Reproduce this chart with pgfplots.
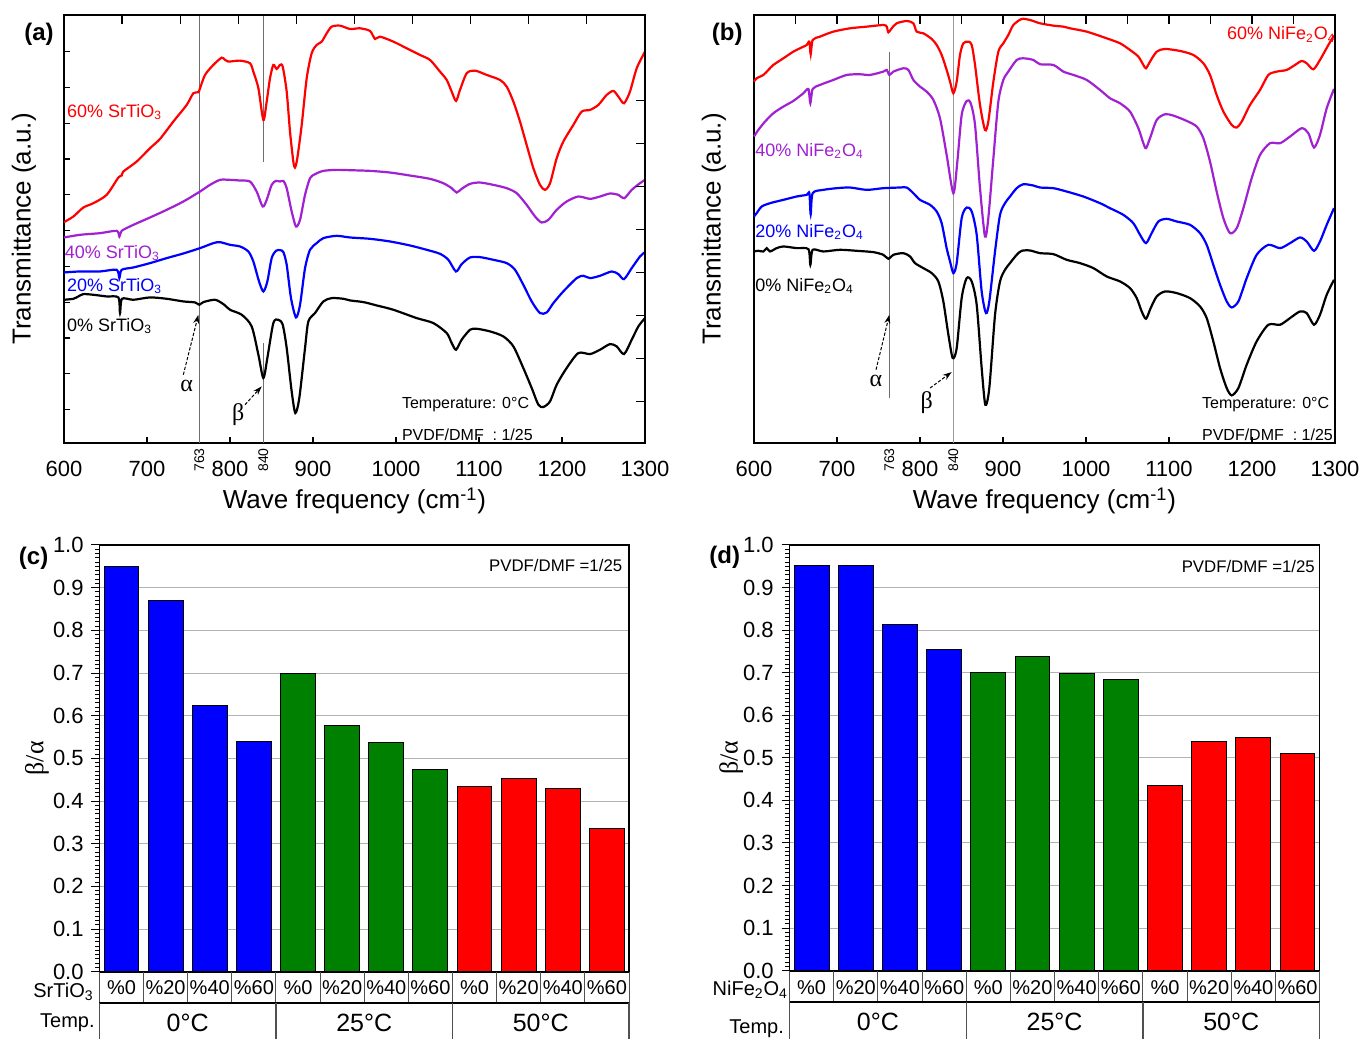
\documentclass[border=0pt]{standalone}
\usepackage{fontspec}
\setmainfont{Liberation Sans}
\newfontfamily\greekfont{Liberation Serif}
\usepackage{pgfplots}
\pgfplotsset{compat=1.18}
\usetikzlibrary{arrows.meta}
\definecolor{cpurple}{RGB}{160,32,210}
\definecolor{cgreen}{RGB}{0,128,0}
\definecolor{cblue}{RGB}{0,0,255}
\definecolor{cred}{RGB}{255,0,0}
\definecolor{vline}{RGB}{110,110,110}
\definecolor{tline}{RGB}{80,80,80}
\newcommand{\fs}[1]{\fontsize{#1}{#1}\selectfont}
\pgfplotsset{
  spec/.style={
    scale only axis, width=290.5pt, height=214pt,
    xmin=600, xmax=1300, ymin=-1285, ymax=0,
    axis line style={line width=0.8pt},
    xtick={600,700,...,1300},
    xtick pos=left, ytick pos=left,
    tick align=inside, major tick length=3pt,
    tick style={line width=0.6pt, black},
    yticklabels={},
    /pgf/number format/assume math mode=true,
    /pgf/number format/1000 sep={},
    xticklabel style={font=\fs{11}, yshift=-5.5pt},
    xlabel={Wave frequency (cm\textsuperscript{-1})},
    ylabel={Transmittance (a.u.)},
    xlabel style={font=\fs{13}, at={(axis description cs:0.5,0)}, anchor=center, yshift=-29pt},
    ylabel style={font=\fs{13}, at={(axis description cs:-0.069,0.5)}, anchor=center},
    clip=false,
  },
  specover/.style={
    scale only axis, width=290.5pt, height=214pt,
    xmin=600, xmax=1300, ymin=-1285, ymax=0,
    axis x line*=top, axis y line*=right,
    axis line style={line width=0.8pt, -},
    tick align=inside, tick style={line width=0.6pt, black},
    xticklabels={}, yticklabels={},
  },
  curve/.style={line width=1.1pt, smooth, tension=0.45, mark=none},
  barax/.style={
    scale only axis, xmin=-0.5, xmax=11.5, ymin=0, ymax=1,
    xtick=\empty,
    ytick={0,0.1,0.2,0.3,0.4,0.5,0.6,0.7,0.8,0.9,1},
    minor y tick num=9,
    ymajorgrids, major grid style={draw=gray!60, line width=0.5pt},
    ytick pos=left, tick align=outside, major tick length=4pt, minor tick length=2.2pt,
    tick style={black, line width=0.5pt},
    axis line style={line width=0.8pt},
    /pgf/number format/assume math mode=true,
    yticklabel style={font=\fs{11}, inner sep=1pt, xshift=-2.7pt, /pgf/number format/.cd, fixed, fixed zerofill, precision=1},
    ylabel={{\greekfont β/α}},
    ylabel style={font=\fs{13}, anchor=center},
    clip=false,
  },
  onebar/.style={ybar, bar width=0.79, bar shift=0pt, draw=black, line width=0.5pt},
}
\tikzset{
  lbl/.style={anchor=base west, font=\fs{9}, inner sep=0pt},
  note/.style={anchor=base west, font=\fs{8}, inner sep=0pt},
  arr/.style={dash pattern=on 1.6pt off 0.9pt, line width=0.5pt, -{Stealth[length=4.5pt,width=3pt]}},
  gr/.style={font=\fs{12}\greekfont, inner sep=0pt},
  rot/.style={rotate=90, anchor=east, font=\fs{7}, inner sep=0pt},
  panel/.style={font=\fs{12}\bfseries, inner sep=0pt},
}
\begin{document}
\begin{tikzpicture}
\path[use as bounding box] (0pt,0pt) rectangle (682.5pt,519.5pt);
% ================= panel (a)
\begin{axis}[spec, at={(32pt,298pt)}, anchor=south west,
  ytick={-1185,-1077.5,-970,-862.5,-755,-647.5,-540,-432.5,-325,-217.5,-110}]
\draw[vline, line width=0.6pt] (axis cs:763,0) -- (axis cs:763,-1285);
\draw[vline, line width=0.6pt] (axis cs:840,0) -- (axis cs:840,-440);
\draw[vline, line width=0.6pt] (axis cs:840,-985) -- (axis cs:840,-1285);
\addplot[curve, cred] coordinates {(600.0,-622) (611.3,-605) (623.3,-578) (635.4,-565) (651.4,-540) (665.5,-488) (669.5,-482) (671.5,-470) (687.6,-440) (703.6,-400) (715.7,-372) (731.7,-320) (747.8,-270) (755.8,-235) (761.9,-232) (763.9,-220) (769.9,-180) (779.9,-150) (790.0,-128) (794.0,-135) (798.0,-140) (812.1,-137) (824.1,-145) (828.1,-170) (834.2,-220) (840.2,-315) (844.2,-260) (848.2,-190) (852.2,-150) (856.2,-162) (860.3,-150) (863.5,-155) (868.3,-230) (872.3,-350) (876.3,-440) (878.3,-458) (881.1,-430) (886.4,-330) (892.4,-190) (898.4,-115) (904.4,-90) (910.5,-80) (916.5,-55) (922.5,-35) (932.5,-32) (944.6,-42) (956.6,-40) (968.7,-48) (974.7,-72) (980.7,-65) (996.8,-80) (1012.9,-100) (1028.9,-120) (1041.0,-135) (1053.0,-170) (1061.1,-195) (1067.1,-230) (1072.3,-258) (1077.1,-225) (1085.2,-175) (1095.2,-167) (1109.3,-180) (1125.3,-195) (1133.4,-215) (1141.4,-260) (1149.4,-320) (1157.4,-390) (1165.5,-460) (1173.5,-510) (1179.5,-525) (1185.6,-505) (1193.6,-430) (1201.6,-380) (1213.7,-330) (1223.7,-290) (1233.8,-285) (1243.8,-270) (1253.8,-240) (1261.9,-228) (1267.9,-245) (1274.7,-265) (1281.9,-230) (1290.0,-160) (1300.0,-110)};
\addplot[curve, cpurple] coordinates {(600.0,-668) (619.3,-660) (643.4,-655) (663.5,-648) (666.7,-665) (669.5,-648) (683.6,-630) (703.6,-608) (723.7,-585) (743.8,-560) (763.9,-530) (775.9,-510) (788.0,-495) (800.0,-495) (812.1,-497) (824.1,-500) (832.1,-530) (839.4,-575) (844.2,-555) (850.2,-510) (855.4,-498) (860.3,-500) (864.3,-498) (868.3,-520) (874.3,-590) (879.5,-635) (884.4,-615) (890.4,-540) (896.4,-490) (902.4,-478) (912.5,-468) (928.5,-465) (944.6,-466) (968.7,-468) (992.8,-473) (1016.9,-482) (1041.0,-492) (1057.0,-505) (1067.1,-520) (1073.1,-533) (1079.1,-522) (1089.2,-507) (1101.2,-503) (1117.3,-510) (1133.4,-520) (1145.4,-535) (1157.4,-570) (1167.5,-605) (1175.5,-623) (1183.6,-615) (1193.6,-585) (1205.6,-560) (1219.7,-545) (1233.8,-552) (1245.8,-545) (1257.8,-536) (1267.9,-540) (1275.1,-550) (1284.0,-525) (1294.0,-505) (1300.0,-495)};
\addplot[curve, cblue] coordinates {(600.0,-773) (619.3,-770) (643.4,-770) (663.5,-765) (666.7,-790) (669.5,-765) (683.6,-758) (703.6,-745) (723.7,-730) (743.8,-716) (763.9,-700) (779.9,-685) (788.0,-682) (800.0,-690) (812.1,-695) (822.1,-710) (828.1,-740) (835.0,-800) (840.2,-830) (845.0,-800) (850.2,-730) (855.4,-708) (860.3,-706) (864.3,-712) (868.3,-750) (873.5,-850) (879.5,-908) (884.4,-870) (890.4,-760) (896.4,-705) (904.4,-685) (912.5,-670) (928.5,-663) (944.6,-668) (968.7,-672) (992.8,-680) (1016.9,-692) (1037.0,-705) (1053.0,-717) (1063.1,-735) (1072.3,-770) (1079.1,-748) (1089.2,-728) (1101.2,-727) (1117.3,-735) (1133.4,-745) (1143.4,-765) (1153.4,-810) (1163.5,-860) (1173.5,-895) (1181.6,-893) (1189.6,-865) (1201.6,-830) (1217.7,-790) (1225.7,-783) (1233.8,-790) (1245.8,-783) (1259.9,-770) (1267.9,-778) (1274.7,-793) (1284.0,-760) (1294.0,-725) (1300.0,-712)};
\addplot[curve, black] coordinates {(600.0,-855) (611.3,-852) (617.3,-845) (623.3,-838) (635.4,-840) (651.4,-845) (665.5,-848) (667.5,-895) (669.9,-852) (683.6,-855) (703.6,-848) (723.7,-852) (743.8,-860) (757.8,-863) (763.1,-870) (767.9,-862) (781.9,-855) (792.0,-868) (800.0,-885) (814.1,-900) (826.1,-935) (834.2,-1020) (840.2,-1090) (845.0,-1030) (852.2,-925) (858.2,-915) (863.5,-930) (868.3,-1000) (874.3,-1130) (878.7,-1195) (883.5,-1150) (890.4,-1000) (894.4,-920) (902.4,-895) (912.5,-860) (922.5,-850) (936.6,-852) (944.6,-857) (960.7,-862) (976.7,-872) (996.8,-885) (1024.9,-910) (1045.0,-925) (1061.1,-955) (1067.1,-985) (1072.3,-1005) (1079.1,-975) (1089.2,-945) (1097.2,-942) (1113.3,-950) (1129.3,-965) (1141.4,-995) (1153.4,-1060) (1163.5,-1120) (1171.5,-1170) (1177.5,-1177) (1185.6,-1160) (1193.6,-1110) (1205.6,-1060) (1219.7,-1015) (1233.8,-1018) (1245.8,-1005) (1257.8,-988) (1265.9,-995) (1274.7,-1018) (1284.0,-975) (1292.0,-935) (1300.0,-910)};
\node[lbl, text=cred] at (axis cs:603.2,-308) {60\% SrTiO\textsubscript{3}};
\node[lbl, text=cpurple] at (axis cs:600.5,-730) {40\% SrTiO\textsubscript{3}};
\node[lbl, text=cblue] at (axis cs:603.2,-830) {20\% SrTiO\textsubscript{3}};
\node[lbl, text=black] at (axis cs:603.2,-950) {0\% SrTiO\textsubscript{3}};
\node[note] at (axis cs:1006.8,-1180) {Temperature: 0°C};
\node[note] at (axis cs:1006.8,-1278) {PVDF/DMF~~: 1/25};
\draw[arr] (axis cs:743.8,-1080) -- (axis cs:761.9,-900);
\draw[arr] (axis cs:818.1,-1170) -- (axis cs:838.2,-1115);
\node[gr] at (axis cs:747.8,-1115) {α};
\node[gr] at (axis cs:810,-1200) {β};
\node[rot] at ([yshift=-2.5pt]axis cs:763,-1285) {763};
\node[rot] at ([yshift=-2.5pt]axis cs:840,-1285) {840};
\end{axis}
\begin{axis}[specover, at={(32pt,298pt)}, anchor=south west,
  xtick={670,740,...,1230}, ytick={-1160,-1031,-902,-773,-644,-515,-386,-257}]
\end{axis}
% ================= panel (b)
\begin{axis}[spec, at={(377pt,298pt)}, anchor=south west, ytick=\empty]
\draw[vline, line width=0.6pt] (axis cs:763,-110) -- (axis cs:763,-1150);
\draw[vline!70, line width=0.6pt] (axis cs:840,0) -- (axis cs:840,-1285);
\addplot[curve, cred] coordinates {(600.0,-200) (603.2,-190) (611.3,-180) (617.3,-165) (623.3,-150) (635.4,-130) (647.4,-110) (655.4,-100) (663.5,-90) (666.7,-80) (668.3,-118) (670.7,-75) (679.5,-65) (695.6,-50) (715.7,-40) (735.8,-35) (755.8,-30) (759.9,-35) (761.9,-52) (765.9,-40) (771.9,-25) (784.0,-18) (792.0,-25) (796.0,-50) (804.0,-55) (814.1,-72) (820.1,-90) (826.1,-120) (832.1,-165) (836.2,-200) (840.2,-235) (844.2,-200) (848.2,-120) (852.2,-85) (858.2,-80) (862.3,-90) (866.3,-150) (872.3,-270) (878.3,-345) (882.3,-320) (888.4,-200) (894.4,-110) (900.4,-85) (906.4,-60) (912.5,-30) (922.5,-12) (932.5,-15) (944.6,-25) (960.7,-32) (972.7,-35) (980.7,-40) (1000.8,-50) (1024.9,-70) (1041.0,-85) (1053.0,-105) (1063.1,-125) (1069.1,-150) (1072.3,-160) (1077.1,-140) (1085.2,-110) (1095.2,-102) (1113.3,-108) (1129.3,-120) (1141.4,-145) (1149.4,-180) (1157.4,-240) (1165.5,-290) (1175.5,-330) (1181.6,-338) (1187.6,-320) (1197.6,-270) (1209.7,-225) (1219.7,-180) (1229.8,-170) (1241.8,-165) (1251.8,-150) (1259.9,-138) (1265.9,-145) (1273.9,-163) (1281.9,-135) (1292.0,-90) (1298.8,-62)};
\addplot[curve, cpurple] coordinates {(600.0,-365) (605.2,-345) (613.3,-320) (623.3,-295) (635.4,-275) (647.4,-258) (659.5,-235) (665.5,-222) (667.9,-265) (670.7,-222) (679.5,-210) (695.6,-195) (711.7,-180) (727.7,-178) (739.8,-180) (755.8,-170) (759.9,-165) (763.1,-180) (767.9,-170) (779.9,-160) (786.0,-165) (792.0,-195) (800.0,-215) (808.0,-230) (816.1,-255) (824.1,-310) (832.1,-420) (840.2,-535) (845.0,-440) (850.2,-300) (856.2,-258) (861.1,-265) (866.3,-330) (872.3,-520) (878.3,-665) (882.3,-610) (888.4,-430) (894.4,-260) (900.4,-195) (906.4,-170) (916.5,-135) (924.5,-130) (936.6,-135) (944.6,-148) (960.7,-150) (972.7,-170) (984.8,-180) (1000.8,-195) (1016.9,-225) (1028.9,-250) (1041.0,-265) (1053.0,-290) (1063.1,-340) (1069.1,-385) (1072.3,-400) (1077.1,-370) (1085.2,-315) (1095.2,-298) (1105.2,-302) (1121.3,-318) (1133.4,-335) (1141.4,-370) (1149.4,-440) (1157.4,-530) (1165.5,-610) (1173.5,-655) (1181.6,-640) (1189.6,-580) (1199.6,-490) (1209.7,-420) (1221.7,-385) (1233.8,-385) (1245.8,-365) (1259.9,-340) (1267.9,-355) (1274.7,-398) (1281.9,-360) (1290.0,-280) (1298.8,-222)};
\addplot[curve, cblue] coordinates {(600.0,-605) (603.2,-595) (609.3,-575) (619.3,-565) (635.4,-555) (651.4,-545) (663.5,-540) (666.7,-535) (668.3,-598) (670.7,-535) (683.6,-525) (699.6,-520) (715.7,-518) (735.8,-525) (755.8,-520) (775.9,-518) (784.0,-518) (792.0,-535) (800.0,-555) (812.1,-570) (820.1,-590) (826.1,-625) (832.1,-700) (836.2,-740) (840.2,-775) (844.2,-745) (850.2,-610) (856.2,-578) (862.3,-590) (868.3,-660) (874.3,-830) (879.5,-895) (883.5,-860) (890.4,-710) (896.4,-600) (902.4,-565) (908.4,-545) (916.5,-520) (924.5,-508) (936.6,-512) (944.6,-518) (960.7,-520) (976.7,-530) (996.8,-545) (1016.9,-565) (1028.9,-580) (1045.0,-600) (1057.0,-625) (1065.1,-660) (1072.3,-685) (1079.1,-655) (1087.2,-620) (1097.2,-612) (1109.3,-620) (1125.3,-630) (1137.4,-655) (1145.4,-690) (1153.4,-750) (1161.5,-810) (1169.5,-860) (1175.5,-878) (1183.6,-860) (1193.6,-790) (1205.6,-720) (1219.7,-690) (1233.8,-700) (1245.8,-685) (1257.8,-668) (1265.9,-680) (1274.7,-708) (1281.9,-680) (1290.0,-630) (1298.8,-580)};
\addplot[curve, black] coordinates {(600.0,-710) (605.2,-708) (611.3,-710) (615.3,-700) (619.3,-710) (627.3,-700) (635.4,-695) (651.4,-700) (665.5,-703) (667.9,-750) (670.7,-705) (683.6,-710) (703.6,-705) (723.7,-708) (743.8,-712) (755.8,-720) (761.9,-732) (767.9,-720) (779.9,-715) (788.0,-725) (794.0,-745) (804.0,-760) (814.1,-775) (822.1,-800) (828.1,-860) (834.2,-960) (839.4,-1030) (844.2,-1000) (850.2,-850) (856.2,-790) (862.3,-800) (868.3,-870) (874.3,-1060) (878.7,-1170) (883.5,-1120) (890.4,-900) (896.4,-800) (902.4,-765) (908.4,-745) (916.5,-720) (922.5,-708) (932.5,-707) (944.6,-715) (960.7,-718) (976.7,-735) (992.8,-745) (1008.9,-760) (1024.9,-785) (1041.0,-800) (1053.0,-820) (1061.1,-850) (1067.1,-890) (1072.3,-912) (1077.9,-880) (1085.2,-845) (1095.2,-830) (1109.3,-835) (1125.3,-850) (1137.4,-875) (1145.4,-910) (1153.4,-980) (1161.5,-1060) (1169.5,-1120) (1175.5,-1142) (1183.6,-1120) (1193.6,-1050) (1205.6,-980) (1219.7,-930) (1233.8,-930) (1245.8,-910) (1257.8,-890) (1265.9,-895) (1274.7,-930) (1281.9,-900) (1290.0,-840) (1298.8,-795)};
\node[lbl, text=cred] at (axis cs:1169.5,-75) {60\% NiFe\textsubscript{2}O\textsubscript{4}};
\node[lbl, text=cpurple] at (axis cs:601.2,-425) {40\% NiFe\textsubscript{2}O\textsubscript{4}};
\node[lbl, text=cblue] at (axis cs:601.2,-668) {20\% NiFe\textsubscript{2}O\textsubscript{4}};
\node[lbl, text=black] at (axis cs:601.2,-830) {0\% NiFe\textsubscript{2}O\textsubscript{4}};
\node[note] at (axis cs:1139.4,-1180) {Temperature: 0°C};
\node[note] at (axis cs:1139.4,-1278) {PVDF/DMF~~: 1/25};
\draw[arr] (axis cs:747.0,-1065) -- (axis cs:763.1,-900);
\draw[arr] (axis cs:812.1,-1120) -- (axis cs:838.2,-1072);
\node[gr] at (axis cs:747.0,-1100) {α};
\node[gr] at (axis cs:808.0,-1165) {β};
\node[rot] at ([yshift=-2.5pt]axis cs:763,-1285) {763};
\node[rot] at ([yshift=-2.5pt]axis cs:840,-1285) {840};
\end{axis}
\begin{axis}[specover, at={(377pt,298pt)}, anchor=south west,
  xtick={650,700,...,1250}, ytick=\empty]
\end{axis}
% ================= panel (c)
\begin{axis}[barax, at={(49.7pt,33.65pt)}, anchor=south west, width=264.8pt, height=213.35pt,
  ylabel style={at={(axis description cs:-0.118,0.5)}}]
\addplot[onebar, fill=cblue] coordinates {(0,0.949) (1,0.870) (2,0.623) (3,0.540)};
\addplot[onebar, fill=cgreen] coordinates {(4,0.699) (5,0.577) (6,0.538) (7,0.475)};
\addplot[onebar, fill=cred] coordinates {(8,0.435) (9,0.452) (10,0.430) (11,0.336)};
\node[anchor=base east, font=\fs{8.4}, inner sep=0pt] at ([xshift=-3.2pt]axis cs:11.5,0.9375) {PVDF/DMF =1/25};
\end{axis}
% table (c)
\foreach \i in {0,...,12} \draw[tline, line width=0.5pt] ({49.7pt+\i*22.0667pt},33.65pt) -- ({49.7pt+\i*22.0667pt},18.15pt);
\draw[black, line width=0.9pt] (49.7pt,18.15pt) -- (314.5pt,18.15pt);
\foreach \i in {0,4,8,12} \draw[tline, line width=0.6pt] ({49.7pt+\i*22.0667pt},18.15pt) -- ({49.7pt+\i*22.0667pt},0pt);
\foreach \i/\t in {0/0,1/20,2/40,3/60,4/0,5/20,6/40,7/60,8/0,9/20,10/40,11/60}
  \node[anchor=base, font=\fs{10}, inner sep=0pt] at ({49.7pt+(\i+0.5)*22.0667pt},22.3pt) {\%\t};
\node[anchor=base, font=\fs{12.5}, inner sep=0pt] at ({49.7pt+2*22.0667pt},3.8pt) {0°C};
\node[anchor=base, font=\fs{12.5}, inner sep=0pt] at ({49.7pt+6*22.0667pt},3.8pt) {25°C};
\node[anchor=base, font=\fs{12.5}, inner sep=0pt] at ({49.7pt+10*22.0667pt},3.8pt) {50°C};
\node[anchor=base east, font=\fs{10}, inner sep=0pt] at (47pt,20.6pt) {SrTiO\textsubscript{3}};
\node[anchor=base east, font=\fs{10}, inner sep=0pt] at (47.5pt,5.6pt) {Temp.};
% ================= panel (d)
\begin{axis}[barax, at={(394.75pt,34.15pt)}, anchor=south west, width=265.05pt, height=212.85pt,
  ylabel style={at={(axis description cs:-0.110,0.5)}}]
\addplot[onebar, fill=cblue] coordinates {(0,0.953) (1,0.951) (2,0.814) (3,0.755)};
\addplot[onebar, fill=cgreen] coordinates {(4,0.700) (5,0.738) (6,0.697) (7,0.683)};
\addplot[onebar, fill=cred] coordinates {(8,0.435) (9,0.539) (10,0.547) (11,0.511)};
\node[anchor=base east, font=\fs{8.4}, inner sep=0pt] at ([xshift=-2.2pt]axis cs:11.5,0.935) {PVDF/DMF =1/25};
\end{axis}
% table (d)
\foreach \i in {0,...,12} \draw[tline, line width=0.5pt] ({394.75pt+\i*22.0875pt},34.15pt) -- ({394.75pt+\i*22.0875pt},18.65pt);
\draw[black, line width=0.9pt] (394.75pt,18.65pt) -- (659.8pt,18.65pt);
\foreach \i in {0,4,8,12} \draw[tline, line width=0.6pt] ({394.75pt+\i*22.0875pt},18.65pt) -- ({394.75pt+\i*22.0875pt},0pt);
\foreach \i/\t in {0/0,1/20,2/40,3/60,4/0,5/20,6/40,7/60,8/0,9/20,10/40,11/60}
  \node[anchor=base, font=\fs{10}, inner sep=0pt] at ({394.75pt+(\i+0.5)*22.0875pt},22.5pt) {\%\t};
\node[anchor=base, font=\fs{12.5}, inner sep=0pt] at ({394.75pt+2*22.0875pt},4.5pt) {0°C};
\node[anchor=base, font=\fs{12.5}, inner sep=0pt] at ({394.75pt+6*22.0875pt},4.5pt) {25°C};
\node[anchor=base, font=\fs{12.5}, inner sep=0pt] at ({394.75pt+10*22.0875pt},4.5pt) {50°C};
\node[anchor=base east, font=\fs{10}, inner sep=0pt] at (394.2pt,21.6pt) {NiFe\textsubscript{2}O\textsubscript{4}};
\node[anchor=base east, font=\fs{10}, inner sep=0pt] at (392.15pt,2.9pt) {Temp.};
% panel letters
\node[panel] at (19.5pt,502.5pt) {(a)};
\node[panel] at (363.6pt,502.5pt) {(b)};
\node[panel] at (16.8pt,240.5pt) {(c)};
\node[panel] at (362.4pt,241pt) {(d)};
\end{tikzpicture}
\end{document}
